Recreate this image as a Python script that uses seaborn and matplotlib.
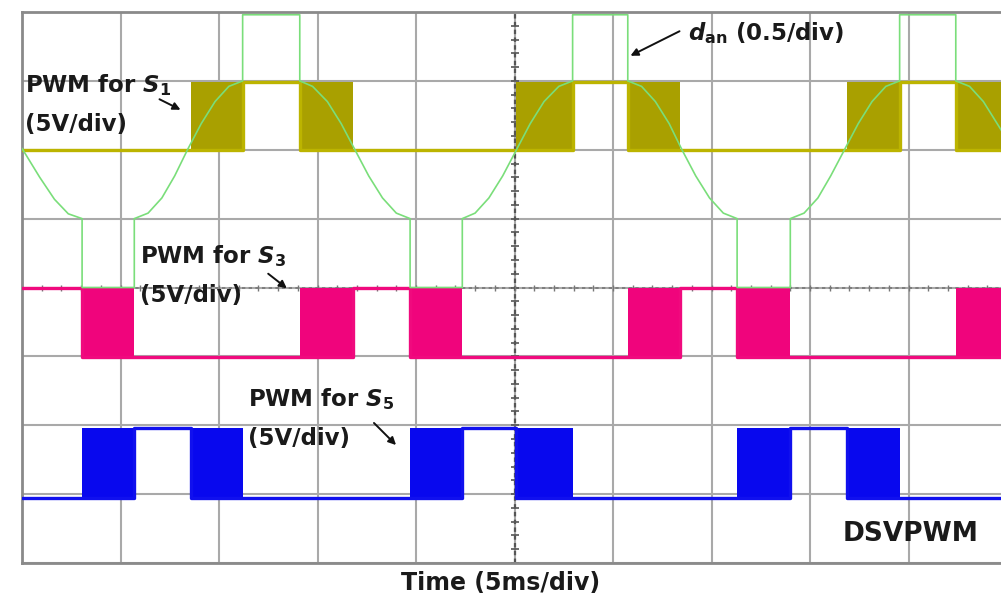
import matplotlib
matplotlib.use("Agg")
import matplotlib.pyplot as plt
import numpy as np
import pandas as pd
import seaborn as sns

# screen is 10 div wide (5 ms/div) and 8 div high
# switching-pattern boundaries in div, 18 sixty-degree segments
edges = [0, 0.61, 1.14, 1.72, 2.24, 2.82, 3.36, 3.94, 4.47, 5.02,
         5.59, 6.15, 6.68, 7.26, 7.80, 8.38, 8.91, 9.48, 10]

# L = held low, H = held high, P = PWM switching burst
s1_states = list("LLLPHPLLLPHPLLLPHP")
s3_states = list("HPLLLPHPLLLPHPLLLP")
s5_states = list("LPHPLLLPHPLLLPHPLL")

# trace levels on screen (div)
s1_levels = (6.0, 6.98)
s3_levels = (2.99, 3.99)
s5_levels = (0.95, 1.96)

# modulating signal d_an (0.5/div)
dan_t = [0.00, 0.18, 0.33, 0.47, 0.61, 0.61, 1.14, 1.14, 1.28, 1.42, 1.55, 1.68,
         1.82, 1.96, 2.10, 2.24, 2.24, 2.82, 2.82, 2.95, 3.10, 3.24, 3.38, 3.52,
         3.66, 3.80, 3.94, 3.94, 4.47, 4.47, 4.60, 4.74, 4.88, 5.02, 5.16, 5.30,
         5.45, 5.59, 5.59, 6.15, 6.15, 6.29, 6.43, 6.57, 6.70, 6.84, 6.98, 7.12,
         7.26, 7.26, 7.80, 7.80, 7.94, 8.08, 8.21, 8.35, 8.49, 8.63, 8.77, 8.91,
         8.91, 9.48, 9.48, 9.62, 9.76, 9.90, 10.0]
dan_v = [6.02, 5.60, 5.28, 5.07, 5.00, 4.00, 4.00, 5.00, 5.08, 5.30, 5.62, 6.00,
         6.38, 6.70, 6.92, 7.00, 7.96, 7.96, 7.00, 6.92, 6.70, 6.38, 6.00, 5.62,
         5.30, 5.08, 5.00, 4.00, 4.00, 5.00, 5.08, 5.30, 5.62, 6.00, 6.38, 6.70,
         6.92, 7.00, 7.96, 7.96, 7.00, 6.92, 6.70, 6.38, 6.00, 5.62, 5.30, 5.08,
         5.00, 4.00, 4.00, 5.00, 5.08, 5.30, 5.62, 6.00, 6.38, 6.70, 6.92, 7.00,
         7.96, 7.96, 7.00, 6.92, 6.70, 6.38, 6.15]

sns.set_theme(style="white")
plt.rcParams["font.family"] = ["DejaVu Sans"]
plt.rcParams["mathtext.fontset"] = "custom"
plt.rcParams["mathtext.it"] = "DejaVu Sans:italic:bold"
plt.rcParams["mathtext.rm"] = "DejaVu Sans:bold"
plt.rcParams["mathtext.bf"] = "DejaVu Sans:bold"

W, H = 1001, 597
fig = plt.figure(figsize=(W / 100, H / 100), dpi=100)
ax = fig.add_axes([22 / W, 34 / H, 985 / W, 551 / H])
ax.set_xlim(0, 10)
ax.set_ylim(0, 8)


def px(x, y):
    # screen pixel -> div coordinates
    return (x - 22) / 98.5, (563 - y) / 68.875


def draw_pwm(states, levels, line_color, fill_color):
    low, high = levels
    xs, ys = [], []
    for i, st in enumerate(states):
        a, b = edges[i], edges[i + 1]
        if st == "P":
            ax.fill_between([a, b], low, high, color=fill_color, lw=0, zorder=3)
        lvl = high if st == "H" else low
        xs += [a, b]
        ys += [lvl, lvl]
    df = pd.DataFrame({"t": xs, "v": ys})
    sns.lineplot(data=df, x="t", y="v", ax=ax, color=line_color, lw=2.4,
                 estimator=None, sort=False, zorder=3)


# graticule
ax.set_xticks(range(11))
ax.set_yticks(range(9))
ax.tick_params(left=False, bottom=False, labelleft=False, labelbottom=False)
ax.grid(True, color="#a9a9a9", lw=1.5)
for sp in ax.spines.values():
    sp.set_color("#8a8a8a")
    sp.set_linewidth(2)
ax.axvline(5, color="#555555", lw=1.6, ls=(0, (2, 1.5)), zorder=2)
ax.axhline(4, color="#777777", lw=1.2, ls=(0, (2, 2)), zorder=2)
# small sub-division marks on the centre axes
sub_y = np.arange(0, 8.01, 0.2)
sub_x = np.arange(0, 10.01, 0.2)
ax.plot([5] * len(sub_y), sub_y, ls="none", marker="_", ms=6, mew=1.2,
        color="#555555", zorder=2)
ax.plot(sub_x, [4] * len(sub_x), ls="none", marker="|", ms=5, mew=1.0,
        color="#777777", zorder=2)

draw_pwm(s1_states, s1_levels, "#bcb400", "#a9a000")
draw_pwm(s3_states, s3_levels, "#f00a7e", "#f0047c")
draw_pwm(s5_states, s5_levels, "#1010ee", "#0808ee")

dan = pd.DataFrame({"t": dan_t, "v": dan_v})
sns.lineplot(data=dan, x="t", y="v", ax=ax, color="#7ade7a", lw=1.2,
             estimator=None, sort=False, zorder=4)
ax.set_xlabel("")
ax.set_ylabel("")

fs = 16.5
txt = dict(fontsize=fs, fontweight="bold", color="#1a1a1a", zorder=6)
ax.text(*px(25, 92), r"PWM for $S_1$", **txt)
ax.text(*px(25, 131), "(5V/div)", **txt)
ax.text(*px(140, 263), r"PWM for $S_3$", **txt)
ax.text(*px(140, 302), "(5V/div)", **txt)
ax.text(*px(248, 406), r"PWM for $S_5$", **txt)
ax.text(*px(248, 445), "(5V/div)", **txt)
ax.text(*px(688, 40), r"$d_{\mathrm{an}}$ (0.5/div)", **txt)
ax.text(*px(843, 541), "DSVPWM", **dict(txt, fontsize=19))
fig.text(0.5, 7 / H, "Time (5ms/div)", ha="center", va="baseline",
         fontsize=fs + 0.5, fontweight="bold", color="#1a1a1a")

arrow = dict(arrowstyle="-|>", color="#111111", lw=1.4, mutation_scale=11)
for tail, head in [((157, 98), (183, 111)), ((266, 272), (289, 290)),
                   ((372, 421), (398, 447)), ((682, 30), (628, 57))]:
    ax.annotate("", xy=px(*head), xytext=px(*tail), arrowprops=arrow,
                zorder=6)

fig.savefig("out.png", dpi=100)
